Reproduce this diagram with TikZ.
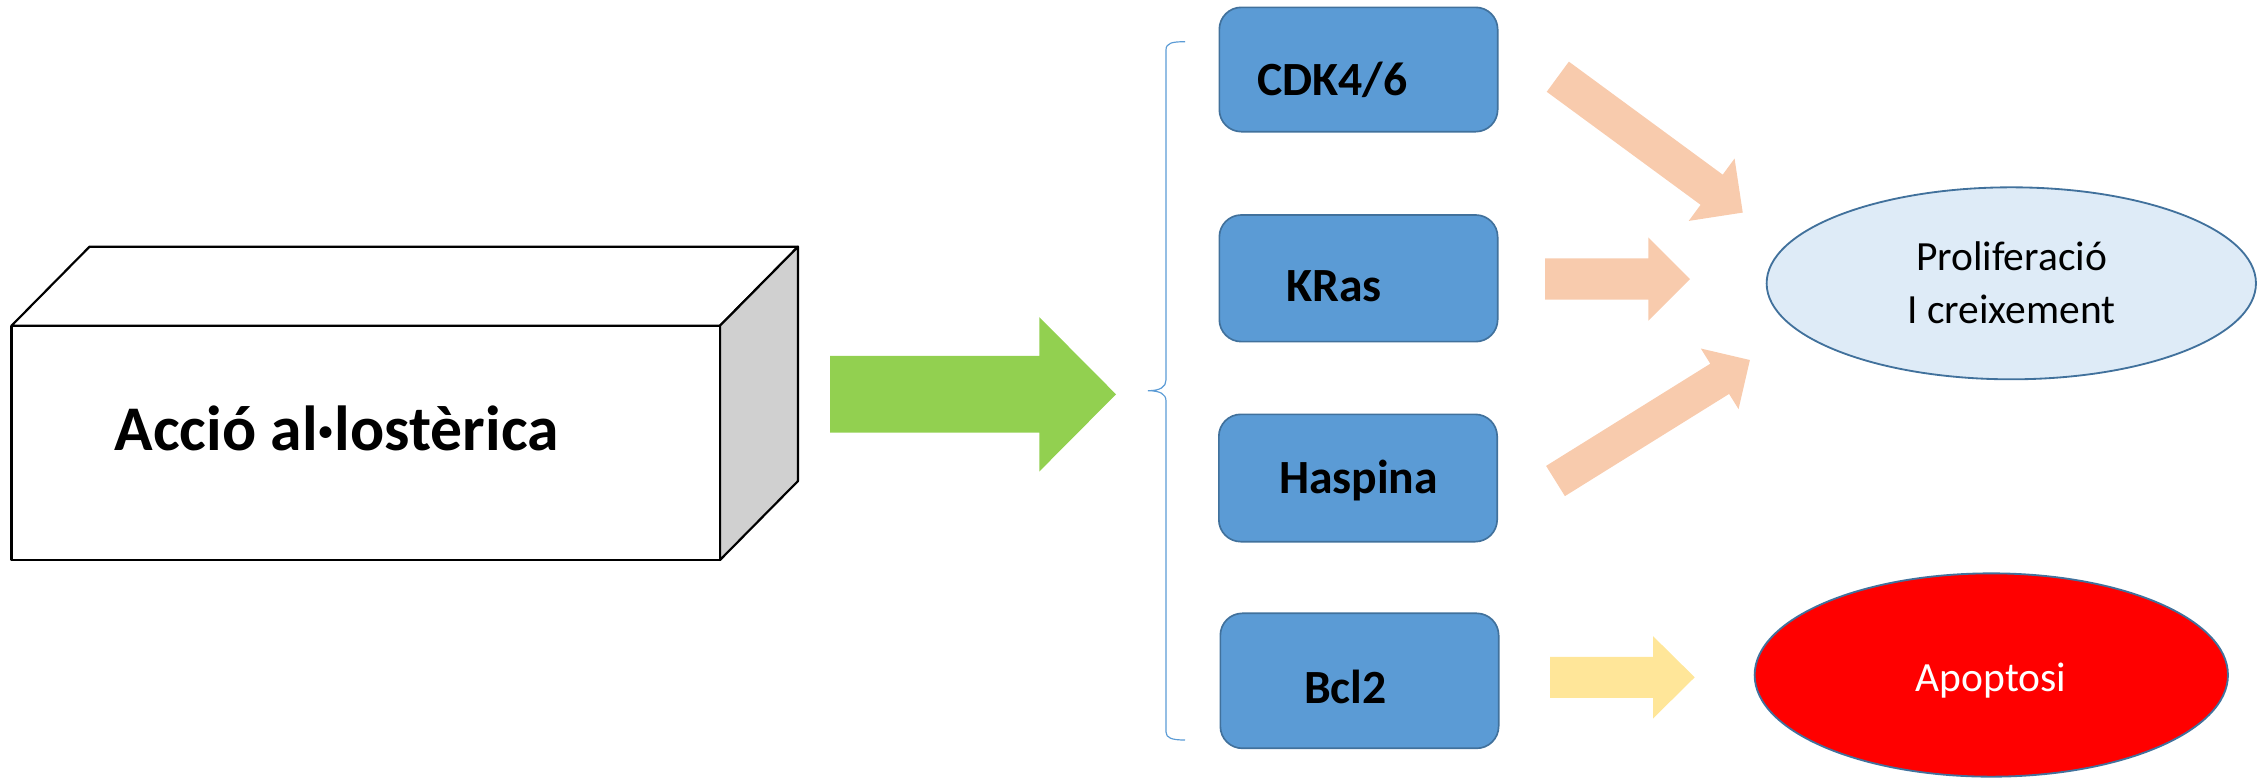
\documentclass[tikz,border=0pt]{standalone}
\usepackage{fontspec}
\setmainfont{Carlito}
\usetikzlibrary{shapes.geometric}

\definecolor{boxblue}{HTML}{5B9BD5}
\definecolor{boxedge}{HTML}{41719C}
\definecolor{paleblue}{HTML}{DEEBF7}
\definecolor{peach}{HTML}{F8CBAD}
\definecolor{leafgreen}{HTML}{92D050}
\definecolor{paleyellow}{HTML}{FFE699}
\definecolor{sidegrey}{HTML}{D0D0D0}
\definecolor{bracecol}{HTML}{5B9BD5}

% block arrow: #1 colour, #2 tail coordinate, #3 angle, #4 length,
% #5 shaft half-width, #6 head half-width, #7 head length
\newcommand\blockarrow[7]{%
  \fill[#1, shift={(#2)}, rotate=#3]
    (0,-#5) -- ({#4-#7},-#5) -- ({#4-#7},-#6) -- (#4,0)
    -- ({#4-#7},#6) -- ({#4-#7},#5) -- (0,#5) -- cycle;}

\begin{document}
\begin{tikzpicture}[x=0.3pt,y=-0.3pt,
  target/.style={rectangle, rounded corners=6.6pt, draw=boxedge, fill=boxblue,
    line width=0.5pt, minimum width=83.5pt, inner sep=0pt},
  targetlabel/.style={anchor=base, inner sep=0pt,
    font=\bfseries\fontsize{14.3}{17}\selectfont},
  outcome/.style={ellipse, draw=boxedge, line width=0.55pt, inner sep=0pt},
  outcomelabel/.style={inner sep=0pt, font=\fontsize{12.45}{15.8}\selectfont}]

\useasboundingbox (0,0) rectangle (2267,782);

% ---- cube ----
\coordinate (fnw) at (11.5,325.7);
\coordinate (fne) at (720,325.7);
\coordinate (fse) at (720,560);
\coordinate (fsw) at (11.5,560);
\coordinate (bnw) at (89.5,246.7);
\coordinate (bne) at (798,246.7);
\coordinate (bse) at (798,481);
\filldraw[fill=white, draw=black, line width=0.65pt, line join=round]
  (fnw) -- (bnw) -- (bne) -- (fne) -- cycle;
\filldraw[fill=sidegrey, draw=black, line width=0.65pt, line join=round]
  (fne) -- (bne) -- (bse) -- (fse) -- cycle;
\filldraw[fill=white, draw=black, line width=0.65pt, line join=round]
  (fnw) -- (fne) -- (fse) -- (fsw) -- cycle;
\node[anchor=base, inner sep=0pt, font=\bfseries\fontsize{19.1}{23}\selectfont]
  (action) at (336.6,450) {Acció al·lostèrica};

% ---- main arrow ----
\coordinate (gtail) at (830,394.3);
\blockarrow{leafgreen}{gtail}{0}{286}{38.4}{77.2}{76.7}

% ---- brace ----
\coordinate (brtop) at (1185,41.7);
\coordinate (brmid) at (1148,390.7);
\coordinate (brbot) at (1185,740);
\draw[bracecol, line width=0.35pt]
  (brtop) .. controls (1172,41.7) and (1166,43) .. (1166,50)
  -- (1166,380) .. controls (1166,387) and (1160,390.7) .. (brmid)
  .. controls (1160,390.7) and (1166,394) .. (1166,401)
  -- (1166,732) .. controls (1166,738) and (1172,740) .. (brbot);

% ---- targets ----
\node[target, minimum height=37.3pt] (cdk) at (1358.5,69.5) {};
\node[target, minimum height=38pt]   (kras) at (1358.5,278.3) {};
\node[target, minimum height=38.2pt] (hasp) at (1358,478) {};
\node[target, minimum height=40.5pt] (bcl) at (1359.5,680.8) {};
\node[targetlabel] (cdkt)  at (1332.5,95) {CDK4/6};
\node[targetlabel] (krast) at (1334,301) {KRas};
\node[targetlabel] (haspt) at (1358.5,493) {Haspina};
\node[targetlabel] (bclt)  at (1345.5,703) {Bcl2};

% ---- outcomes ----
\node[outcome, fill=paleblue, minimum width=146.8pt, minimum height=57.6pt]
  (prolif) at (2011.3,283.3) {};
\node[outcomelabel, align=center] (prolift) at (2011.5,282.5)
  {Proliferació\\I creixement};
\node[outcome, fill=red, minimum width=142pt, minimum height=61pt]
  (apop) at (1991.3,675) {};
\node[outcomelabel, anchor=base, text=white] (apopt) at (1991,691.7) {Apoptosi};

% ---- effect arrows ----
\coordinate (p1tail) at (1557.8,76.7);
\coordinate (p2tail) at (1545,279);
\coordinate (p3tail) at (1555.5,481);
\coordinate (ytail)  at (1550,677.3);
\blockarrow{peach}{p1tail}{-36.3}{229.5}{18.7}{38.7}{38.6}
\blockarrow{peach}{p2tail}{0}{145}{20.7}{41.7}{41.7}
\blockarrow{peach}{p3tail}{31.9}{229}{17.8}{35.7}{35.6}
\blockarrow{paleyellow}{ytail}{0}{144.7}{20.5}{41.2}{41.7}

\end{tikzpicture}
\end{document}
